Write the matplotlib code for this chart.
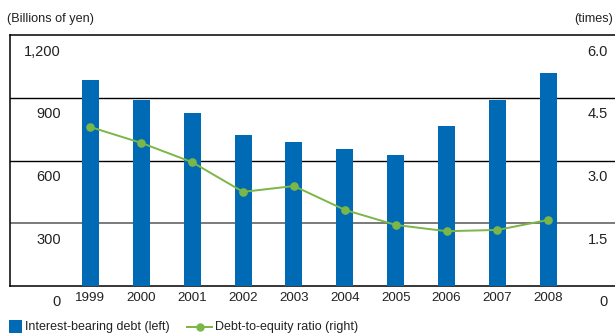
import matplotlib
matplotlib.use("Agg")
import matplotlib.pyplot as plt
import matplotlib.transforms as mtransforms
from matplotlib.patches import Rectangle
from matplotlib.lines import Line2D
import numpy as np

plt.rcParams['font.family'] = ['Liberation Sans', 'DejaVu Sans']

years = ["1999", "2000", "2001", "2002", "2003", "2004", "2005", "2006", "2007", "2008"]
debt = [985, 889, 827, 722, 688, 655, 626, 765, 889, 1018]        # billions of yen
de_ratio = [3.80, 3.42, 2.96, 2.25, 2.39, 1.82, 1.46, 1.31, 1.34, 1.58]  # times

left_ticks = [0, 300, 600, 900, 1200]
left_labels = ["0", "300", "600", "900", "1,200"]
right_ticks = [0, 1.5, 3.0, 4.5, 6.0]
right_labels = ["0", "1.5", "3.0", "4.5", "6.0"]

BLUE = "#006AB4"
GREEN = "#7AB648"
TXT = "#222222"

W, H = 615, 335
fig = plt.figure(figsize=(W / 100, H / 100), dpi=100)
ax = fig.add_axes([10 / W, 1 - 286 / H, 605 / W, 251 / H])
ax2 = ax.twinx()

x = np.arange(len(years))
ax.bar(x, debt, width=0.334, color=BLUE, zorder=3)
ax.set_ylim(0, 1200)
ax.set_xlim(-1.58, 10.31)

ax2.plot(x, de_ratio, color=GREEN, lw=1.4, marker="o", markersize=5.2,
         markerfacecolor=GREEN, markeredgecolor=GREEN, zorder=4)
ax2.set_ylim(0, 6)

# gridlines
for t in left_ticks[1:-1]:
    ax.axhline(t, color="#707070" if t == 300 else "black",
               lw=1.3 if t == 300 else 1.0, zorder=1)

for a in (ax, ax2):
    a.set_xticks([])
    a.set_yticks([])
    a.spines['right'].set_visible(False)
    a.spines['left'].set_visible(a is ax)
    a.spines['top'].set_visible(a is ax)
    a.spines['bottom'].set_visible(a is ax)
for s in ('left', 'top', 'bottom'):
    ax.spines[s].set_linewidth(1.1)

# value labels sit just below each gridline
dy = mtransforms.ScaledTranslation(0, -16.5 / 100, fig.dpi_scale_trans)
ltrans = mtransforms.blended_transform_factory(fig.transFigure, ax.transData) + dy
rtrans = mtransforms.blended_transform_factory(fig.transFigure, ax2.transData) + dy
for t, lab in zip(left_ticks, left_labels):
    ax.text(61 / W, t, lab, transform=ltrans, ha="right", va="center",
            fontsize=10.5, color=TXT, clip_on=False)
for t, lab in zip(right_ticks, right_labels):
    ax2.text(608 / W, t, lab, transform=rtrans, ha="right", va="center",
             fontsize=10.5, color=TXT, clip_on=False)

# year labels
ytrans = mtransforms.blended_transform_factory(ax.transData, fig.transFigure)
for xi, yr in zip(x, years):
    ax.text(xi, 1 - 298 / H, yr, transform=ytrans, ha="center", va="center",
            fontsize=9.6, color=TXT, clip_on=False)

fig.text(7 / W, 1 - 19 / H, "(Billions of yen)", ha="left", va="center",
         fontsize=9.1, color=TXT)
fig.text(613 / W, 1 - 19 / H, "(times)", ha="right", va="center",
         fontsize=9.1, color=TXT)

# legend
ly = 1 - 327 / H
fig.patches.append(Rectangle((9 / W, 1 - 333 / H), 13 / W, 13 / H,
                             transform=fig.transFigure, facecolor=BLUE,
                             edgecolor="none"))
fig.text(25 / W, ly, "Interest-bearing debt (left)", ha="left", va="center",
         fontsize=9.0, color=TXT)
fig.lines.append(Line2D([187 / W, 212 / W], [ly, ly], transform=fig.transFigure,
                        color=GREEN, lw=1.4))
fig.lines.append(Line2D([199.5 / W], [ly], transform=fig.transFigure,
                        color=GREEN, marker="o", markersize=5))
fig.text(215 / W, ly, "Debt-to-equity ratio (right)", ha="left", va="center",
         fontsize=9.0, color=TXT)

fig.savefig("out.png", dpi=100)
